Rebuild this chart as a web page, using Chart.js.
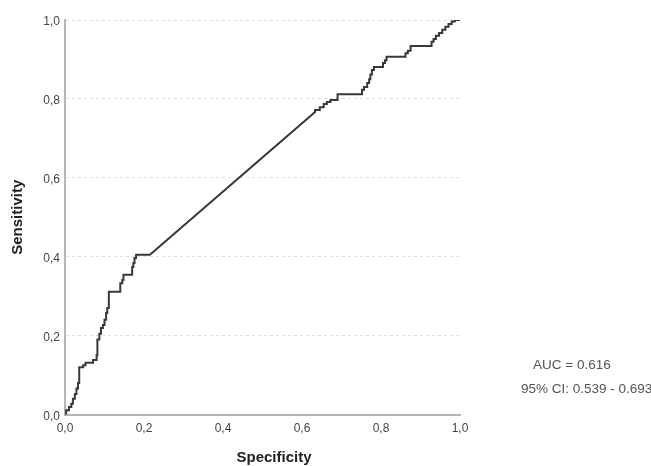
<!DOCTYPE html>
<html>
<head>
<meta charset="utf-8">
<script src="https://cdn.jsdelivr.net/npm/chart.js@4"></script>
<style>
  html, body { margin: 0; padding: 0; background: #fff; }
  #wrap { width: 651px; height: 466px; }
</style>
</head>
<body>
<div id="wrap"><canvas id="roc" width="651" height="466"></canvas></div>
<script>
// ---------------- DATA ----------------
// ROC curve corners (x = 1 - specificity axis as labelled "Specificity")
const rocX = [
  0, 0.003, 0.003, 0.010, 0.010, 0.016, 0.016, 0.020, 0.020, 0.025, 0.025, 0.029, 0.029, 0.033, 0.033, 0.036,
  0.036, 0.046, 0.046, 0.052, 0.052, 0.071, 0.071, 0.080, 0.080, 0.082, 0.082, 0.087, 0.087, 0.091, 0.091, 0.096,
  0.096, 0.100, 0.100, 0.104, 0.104, 0.107, 0.107, 0.111, 0.111, 0.140, 0.140, 0.145, 0.145, 0.148, 0.148, 0.170,
  0.170, 0.173, 0.173, 0.176, 0.176, 0.180, 0.180, 0.215,
  0.633, 0.633, 0.645, 0.645, 0.655, 0.655, 0.663, 0.663, 0.672, 0.672, 0.690, 0.690, 0.752,
  0.752, 0.757, 0.757, 0.765, 0.765, 0.770, 0.770, 0.773, 0.773, 0.777, 0.777, 0.782, 0.782, 0.805,
  0.805, 0.810, 0.810, 0.814, 0.814, 0.862, 0.862, 0.868, 0.868, 0.875, 0.875, 0.928,
  0.928, 0.933, 0.933, 0.939, 0.939, 0.947, 0.947, 0.955, 0.955, 0.963, 0.963, 0.971, 0.971, 0.979, 0.979, 0.987,
  0.987, 1.0
];
const rocY = [
  0, 0, 0.011, 0.011, 0.019, 0.019, 0.027, 0.027, 0.040, 0.040, 0.052, 0.052, 0.066, 0.066, 0.080, 0.080,
  0.120, 0.120, 0.125, 0.125, 0.131, 0.131, 0.138, 0.138, 0.150, 0.150, 0.190, 0.190, 0.205, 0.205, 0.219, 0.219,
  0.227, 0.227, 0.240, 0.240, 0.257, 0.257, 0.270, 0.270, 0.311, 0.311, 0.333, 0.333, 0.341, 0.341, 0.354, 0.354,
  0.374, 0.374, 0.384, 0.384, 0.397, 0.397, 0.405, 0.405,
  0.767, 0.772, 0.772, 0.779, 0.779, 0.787, 0.787, 0.792, 0.792, 0.797, 0.797, 0.812, 0.812,
  0.823, 0.823, 0.830, 0.830, 0.840, 0.840, 0.850, 0.850, 0.862, 0.862, 0.873, 0.873, 0.881, 0.881,
  0.891, 0.891, 0.898, 0.898, 0.907, 0.907, 0.916, 0.916, 0.922, 0.922, 0.934, 0.934,
  0.945, 0.945, 0.952, 0.952, 0.960, 0.960, 0.967, 0.967, 0.975, 0.975, 0.983, 0.983, 0.990, 0.990, 0.996, 0.996,
  1.0, 1.0
];

const tickLabels = ["0,0", "0,2", "0,4", "0,6", "0,8", "1,0"];
const aucText = "AUC = 0.616";
const ciText = "95% CI: 0.539 - 0.693";

// ---------------- TEXT PLUGIN ----------------
const extraText = {
  id: "extraText",
  afterDraw(chart) {
    const ctx = chart.ctx;
    const area = chart.chartArea;
    ctx.save();
    ctx.textBaseline = "middle";

    // x axis title
    ctx.fillStyle = "#222";
    ctx.font = 'bold 15px "Liberation Sans", Arial, sans-serif';
    ctx.textAlign = "center";
    ctx.fillText("Specificity", area.left + 209, 458);

    // AUC note
    ctx.fillStyle = "#555";
    ctx.font = '13.5px "Liberation Sans", Arial, sans-serif';
    ctx.textAlign = "left";
    ctx.fillText(aucText, 533, 365);
    ctx.fillText(ciText, 521, 389);
    ctx.restore();
  },
};

// ---------------- CHART ----------------
const tickFont = { family: '"Liberation Sans", Arial, sans-serif', size: 12 };

new Chart(document.getElementById("roc"), {
  type: "scatter",
  data: {
    datasets: [
      {
        data: rocX.map((x, i) => ({ x: x, y: rocY[i] })),
        showLine: true,
        borderColor: "#383838",
        borderWidth: 2,
        pointRadius: 0,
        fill: false,
        tension: 0,
      },
    ],
  },
  options: {
    responsive: false,
    animation: false,
    layout: { padding: { top: 20, right: 191, bottom: 0, left: 0 } },
    plugins: { legend: { display: false }, tooltip: { enabled: false } },
    scales: {
      x: {
        type: "linear",
        min: 0,
        max: 1,
        afterFit: (s) => { s.height = 51.5; },
        grid: { display: false, drawTicks: false },
        border: { display: true, color: "#b5b5b5", width: 2 },
        ticks: {
          stepSize: 0.2,
          padding: 7,
          color: "#444",
          font: tickFont,
          maxRotation: 0,
          autoSkip: false,
          callback: (v, i) => tickLabels[i],
        },
      },
      y: {
        type: "linear",
        min: 0,
        max: 1,
        afterFit: (s) => { s.width = 65; },
        grid: { display: true, color: "#e0e0e0", lineWidth: 1, drawTicks: false },
        border: { display: true, color: "#b5b5b5", width: 2, dash: [3, 3] },
        ticks: {
          stepSize: 0.2,
          padding: 5,
          labelOffset: 2,
          color: "#444",
          font: tickFont,
          callback: (v, i) => tickLabels[i],
        },
        title: {
          display: true,
          text: "Sensitivity",
          color: "#222",
          font: { family: '"Liberation Sans", Arial, sans-serif', size: 15, weight: "bold" },
          padding: { top: 9, bottom: 0 },
        },
      },
    },
  },
  plugins: [extraText],
});
</script>
</body>
</html>
